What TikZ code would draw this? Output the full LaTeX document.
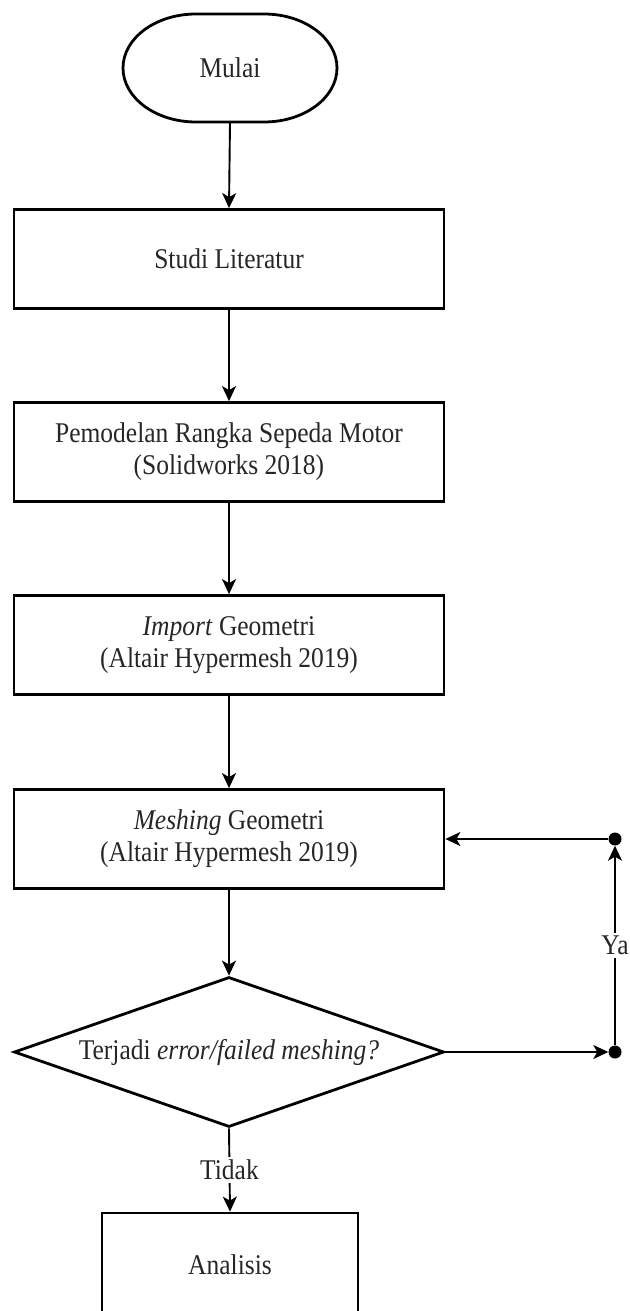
\documentclass[tikz,border=0pt]{standalone}
\usepackage{graphicx}
\usepackage{fontspec}
\setmainfont{Liberation Serif}
\usetikzlibrary{shapes.geometric,arrows.meta}
\newcommand\mainfs{\fontsize{25.5}{32}\selectfont}
\newcommand\tl[1]{\scalebox{1}[1.12]{#1}}
\begin{document}
\begin{tikzpicture}[x=1pt,y=-1pt,
  box/.style={draw, line width=2.8pt, minimum width=430pt, minimum height=99pt, inner sep=0pt, align=center, font=\mainfs, text=black!85},
  arr/.style={line width=1.9pt, -{Stealth[length=15pt,width=14pt,inset=4pt]}},
  lbl/.style={fill=white, inner sep=3pt, font=\mainfs, text=black!85},
  dot/.style={circle, fill, inner sep=0pt, minimum size=13pt}]
\useasboundingbox (0,0) rectangle (629,1311);
% start terminal
\node[minimum width=214pt, minimum height=108pt, inner sep=0pt, font=\mainfs, text=black!85] (start) at (230,68) {\tl{Mulai}};
\draw[line width=2.8pt] (196,14) -- (264,14)
  arc[start angle=90, end angle=-90, x radius=73pt, y radius=54pt]
  -- (196,122)
  arc[start angle=270, end angle=90, x radius=73pt, y radius=54pt] -- cycle;
% process boxes
\node[box] (s1) at (229,259) {\tl{Studi Literatur}};
\node[box] (s2) at (229,452) {\tl{Pemodelan Rangka Sepeda Motor}\\\tl{(Solidworks 2018)}};
\node[box] (s3) at (229,645) {\tl{\textit{Import} Geometri}\\\tl{(Altair Hypermesh 2019)}};
\node[box] (s4) at (229,839) {\tl{\textit{Meshing} Geometri}\\\tl{(Altair Hypermesh 2019)}};
% decision
\node[draw, diamond, line width=2.8pt, minimum width=430pt, minimum height=150pt, inner sep=0pt] (dec) at (229,1052) {};
\node[font=\mainfs, text=black!85] (dectext) at (dec) {\tl{Terjadi \textit{error/failed meshing?}}};
% analysis
\node[draw, line width=2.8pt, minimum width=256pt, minimum height=104pt, inner sep=0pt, font=\mainfs, text=black!85] (ana) at (230,1265) {\tl{Analisis}};
% loop points
\node[dot] (d1) at (615,1052) {};
\node[dot] (d2) at (615,839) {};
% connectors
\draw[arr] (start.south) -- (s1.north);
\draw[arr] (s1) -- (s2);
\draw[arr] (s2) -- (s3);
\draw[arr] (s3) -- (s4);
\draw[arr] (s4) -- (dec);
\draw[arr] (dec.south) -- node[lbl] {\tl{Tidak}} (ana.north);
\draw[arr] (dec.east) -- (d1);
\draw[arr] (d1) -- node[lbl] {\tl{Ya}} (d2);
\draw[arr] (d2) -- (s4.east);
\end{tikzpicture}
\end{document}
